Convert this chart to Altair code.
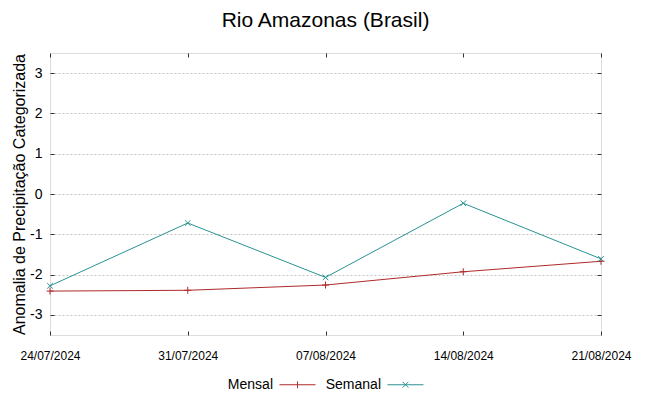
import altair as alt
import pandas as pd

dates = ["24/07/2024", "31/07/2024", "07/08/2024", "14/08/2024", "21/08/2024"]
mensal = [-2.41, -2.39, -2.26, -1.93, -1.67]
semanal = [-2.28, -0.72, -2.07, -0.23, -1.61]
series = ["Mensal", "Semanal"]
colors = ["#b02a2a", "#2a9292"]
y_ticks = [-3, -2, -1, 0, 1, 2, 3]

df = pd.DataFrame(
    {
        "data": dates * 2,
        "valor": mensal + semanal,
        "serie": ["Mensal"] * len(dates) + ["Semanal"] * len(dates),
    }
)

FONT = "Liberation Sans"
xscale = alt.Scale(type="point", domain=dates, padding=0)
yscale = alt.Scale(domain=[-3.5, 3.5], nice=False, zero=False)
cscale = alt.Scale(domain=series, range=colors)

PLUS = "M0,-1L0,1M-1,0L1,0"
CROSS = "M-0.8,-0.8L0.8,0.8M-0.8,0.8L0.8,-0.8"
LEG_PLUS = "M-1,0L1,0M0,-0.19L0,0.19"
LEG_CROSS = "M-1,0L1,0M-0.16,-0.16L0.16,0.16M-0.16,0.16L0.16,-0.16"

base = alt.Chart(df)

X_MAIN = alt.X("data:N", scale=xscale, sort=dates, title=None,
               axis=alt.Axis(orient="bottom", labelAngle=0, offset=-4, tickSize=4,
                             tickColor="#333333", labelPadding=15, labelFontSize=12,
                             labelFont=FONT, labelColor="#000000", domain=False,
                             grid=False))
Y_MAIN = alt.Y("valor:Q", scale=yscale,
               title="Anomalia de Precipitação Categorizada",
               axis=alt.Axis(orient="left", values=y_ticks, offset=-4, tickSize=4,
                             labelExpr="toString(datum.value)",
                             tickColor="#333333", labelPadding=8, labelFontSize=14,
                             labelFont=FONT, labelColor="#000000", domain=False,
                             grid=True, gridDash=[2, 2], gridColor="#c4c4c4",
                             gridWidth=1, titleFont=FONT, titleFontSize=16,
                             titleFontWeight="normal", titleColor="#000000",
                             titlePadding=2))
X_TOP = alt.X("data:N", scale=xscale, sort=dates,
              axis=alt.Axis(orient="top", labels=False, offset=-4, tickSize=4,
                            tickColor="#333333", domain=False, grid=False, title=None))
Y_RIGHT = alt.Y("valor:Q", scale=yscale,
                axis=alt.Axis(orient="right", values=y_ticks, labels=False, offset=-4,
                              tickSize=4, tickColor="#333333", domain=False,
                              grid=False, title=None))
X_NONE = alt.X("data:N", scale=xscale, sort=dates, axis=None)
Y_NONE = alt.Y("valor:Q", scale=yscale, axis=None)

mdf = base.transform_filter(alt.datum.serie == "Mensal")
sdf = base.transform_filter(alt.datum.serie == "Semanal")

line_m = mdf.mark_line(strokeWidth=1, color=colors[0]).encode(x=X_MAIN, y=Y_MAIN)
line_s = sdf.mark_line(strokeWidth=1, color=colors[1]).encode(x=X_TOP, y=Y_RIGHT)
pts_m = mdf.mark_point(shape=PLUS, size=49, strokeWidth=1, filled=False,
                       opacity=1, color=colors[0]).encode(x=X_NONE, y=Y_NONE)
pts_s = sdf.mark_point(shape=CROSS, size=49, strokeWidth=1, filled=False,
                       opacity=1, color=colors[1]).encode(x=X_NONE, y=Y_NONE)


def make_legend():
    return alt.Legend(title=None, orient="none", direction="horizontal",
                      legendX=229, legendY=313,
                      labelAlign="right", labelOffset={"expr": "-43"},
                      labelFont=FONT, labelFontSize=14,
                      labelColor="#000000", columnPadding=7,
                      symbolSize=1296, symbolStrokeWidth=1,
                      padding=0)


leg = base.transform_filter("false").mark_point(
    size=1296, strokeWidth=1, filled=False, opacity=1
).encode(
    color=alt.Color("serie:N", scale=cscale, legend=make_legend()),
    shape=alt.Shape("serie:N", scale=alt.Scale(domain=series, range=[LEG_PLUS, LEG_CROSS]),
                    legend=make_legend()),
)

chart = alt.layer(line_m, line_s, pts_m, pts_s, leg).resolve_axis(
    x="independent", y="independent"
).properties(
    width=551,
    height=282,
    title=alt.Title("Rio Amazonas (Brasil)", font=FONT, fontSize=21,
                    fontWeight="normal", color="#000000", offset=22, anchor="middle"),
    autosize=alt.AutoSizeParams(type="none"),
    padding={"left": 42, "top": 45, "right": 40, "bottom": 70},
).configure_view(
    stroke="#444444", strokeWidth=1
).configure(background="white")

chart.save("out.html", embed_options={"renderer": "svg", "actions": False})
